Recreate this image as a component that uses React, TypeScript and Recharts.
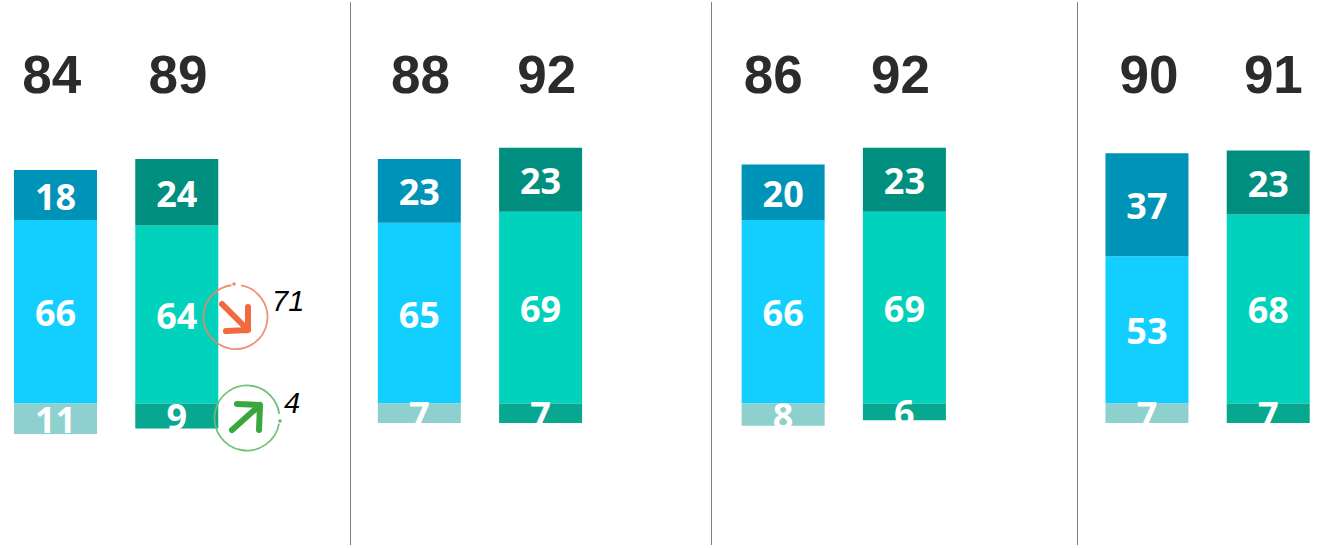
import { BarChart, Bar, Cell, LabelList, XAxis, YAxis } from 'recharts';

// 11 slots: pairs of bars with an empty slot between the groups
const slots = ['A1', 'A2', 'gap1', 'B1', 'B2', 'gap2', 'C1', 'C2', 'gap3', 'D1', 'D2'];
const headline = [84, 89, null, 88, 92, null, 86, 92, null, 90, 91];
const topValues = [18, 24, null, 23, 23, null, 20, 23, null, 37, 23];
const midValues = [66, 64, null, 65, 69, null, 66, 69, null, 53, 68];
// bottom segments hang below the shared baseline
const lowValues = [-11, -9, null, -7, -7, null, -8, -6, null, -7, -7];

const HEADLINE_SHIFT = [-4, 1, 0, 1, 6, 0, -10, -4, 0, 2, 5];

const COLORS = {
  top: ['#0093b8', '#008f7f'],
  mid: ['#12cfff', '#00d2bc'],
  low: ['#8ed0cd', '#07a88f'],
};

const data = slots.map((slot, i) => ({
  slot,
  top: topValues[i],
  mid: midValues[i],
  low: lowValues[i],
}));

// first slot of a group is the blue bar, second the green one
const pairIndex = (i: number) => (i % 3 === 0 ? 0 : 1);

function HeadlineTick({ x, index }: any) {
  const value = headline[index];
  if (value == null) return null;
  return (
    <text
      x={x + HEADLINE_SHIFT[index]}
      y={93}
      textAnchor="middle"
      fill="#2b2b2b"
      fontSize={53}
      fontWeight={700}
      fontFamily="Liberation Sans"
    >
      {value}
    </text>
  );
}

function SegmentLabel({ x, y, width, height, value }: any) {
  if (value == null) return null;
  return (
    <text
      x={x + width / 2}
      y={y + height / 2 + 14.5}
      textAnchor="middle"
      fill="#ffffff"
      fontSize={36}
      fontWeight={700}
      fontFamily="Open Sans"
    >
      {Math.abs(value)}
    </text>
  );
}

const SEPARATORS = [350, 711, 1077];

export default function App() {
  const series: [string, string[]][] = [
    ['mid', COLORS.mid],
    ['top', COLORS.top],
    ['low', COLORS.low],
  ];
  return (
    <div style={{ position: 'absolute', left: 0, top: 0, width: 1321, height: 548, overflow: 'hidden', background: '#fff' }}>
      <BarChart
        width={1321}
        height={548}
        data={data}
        stackOffset="sign"
        barSize={83}
        margin={{ top: -0.5, right: -8, bottom: 0, left: -5 }}
      >
        <XAxis
          dataKey="slot"
          orientation="top"
          height={1}
          interval={0}
          axisLine={false}
          tickLine={false}
          tick={HeadlineTick}
        />
        <YAxis hide domain={[-52, 145]} />
        {series.map(([key, colors]) => (
          <Bar key={key} dataKey={key} stackId="a" isAnimationActive={false}>
            {data.map((_, i) => (
              <Cell key={i} fill={colors[pairIndex(i)]} />
            ))}
            <LabelList dataKey={key} content={SegmentLabel} />
          </Bar>
        ))}
      </BarChart>

      {SEPARATORS.map((x) => (
        <div key={x} style={{ position: 'absolute', left: x, top: 2, width: 1, height: 543, background: '#808080' }} />
      ))}

      <svg width={1321} height={548} style={{ position: 'absolute', left: 0, top: 0 }}>
        {/* falling marker */}
        <circle cx={235.5} cy={317} r={32} fill="none" stroke="#ee8468" strokeWidth={1.8} strokeDasharray="191 10" transform="rotate(-80 235.5 317)" opacity={0.9} />
        <circle cx={234} cy={284} r={1.7} fill="#ee8468" />
        <path d="M222 304 L248 330 M248 307 L248 330 L226 331" fill="none" stroke="#f0693f" strokeWidth={6} strokeLinecap="round" strokeLinejoin="round" />
        <text x={272} y={311} fontSize={29} fontStyle="italic" fontFamily="Liberation Sans" fill="#000">71</text>

        {/* rising marker */}
        <circle cx={247} cy={418} r={32.5} fill="none" stroke="#6cbf73" strokeWidth={1.8} strokeDasharray="194 10" transform="rotate(10 247 418)" opacity={0.95} />
        <circle cx={280} cy={421} r={1.7} fill="#5fb868" />
        <path d="M232 430 L260 405 M237 404 L260 405 L259 430" fill="none" stroke="#3aa63e" strokeWidth={6} strokeLinecap="round" strokeLinejoin="round" />
        <text x={284} y={413} fontSize={29} fontStyle="italic" fontFamily="Liberation Sans" fill="#000">4</text>
      </svg>
    </div>
  );
}
